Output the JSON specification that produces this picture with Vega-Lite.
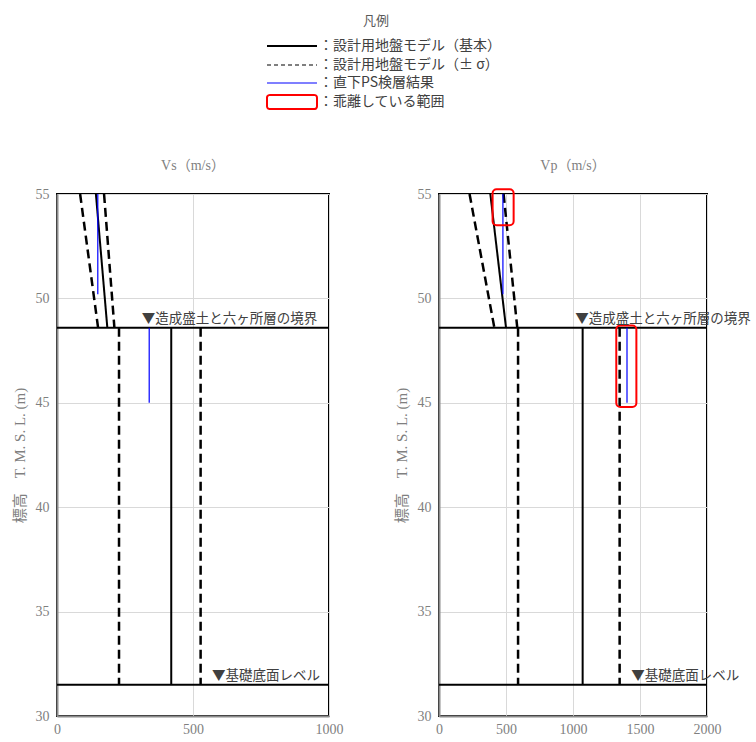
{
  "$schema": "https://vega.github.io/schema/vega-lite/v6.json",
  "background": "white",
  "padding": {"left": 11, "top": 15, "right": 5, "bottom": 5},
  "datasets": {
    "lines": [
      {"panel": "Vs", "series": "：設計用地盤モデル（基本）", "seg": "b1", "x": 143, "y": 55},
      {"panel": "Vs", "series": "：設計用地盤モデル（基本）", "seg": "b1", "x": 185, "y": 48.6},
      {"panel": "Vs", "series": "：設計用地盤モデル（基本）", "seg": "b2", "x": 420, "y": 48.6},
      {"panel": "Vs", "series": "：設計用地盤モデル（基本）", "seg": "b2", "x": 420, "y": 31.5},
      {"panel": "Vs", "series": "：設計用地盤モデル（± σ）", "seg": "m1", "x": 85, "y": 55},
      {"panel": "Vs", "series": "：設計用地盤モデル（± σ）", "seg": "m1", "x": 151, "y": 48.6},
      {"panel": "Vs", "series": "：設計用地盤モデル（± σ）", "seg": "m2", "x": 228, "y": 48.6},
      {"panel": "Vs", "series": "：設計用地盤モデル（± σ）", "seg": "m2", "x": 228, "y": 31.5},
      {"panel": "Vs", "series": "：設計用地盤モデル（± σ）", "seg": "p1", "x": 173, "y": 55},
      {"panel": "Vs", "series": "：設計用地盤モデル（± σ）", "seg": "p1", "x": 211, "y": 48.6},
      {"panel": "Vs", "series": "：設計用地盤モデル（± σ）", "seg": "p2", "x": 528, "y": 48.6},
      {"panel": "Vs", "series": "：設計用地盤モデル（± σ）", "seg": "p2", "x": 528, "y": 31.5},
      {"panel": "Vs", "series": "：直下PS検層結果", "seg": "s1", "x": 150, "y": 55},
      {"panel": "Vs", "series": "：直下PS検層結果", "seg": "s1", "x": 150, "y": 50.2},
      {"panel": "Vs", "series": "：直下PS検層結果", "seg": "s2", "x": 339, "y": 48.6},
      {"panel": "Vs", "series": "：直下PS検層結果", "seg": "s2", "x": 339, "y": 45.0},
      {"panel": "Vp", "series": "：設計用地盤モデル（基本）", "seg": "b1", "x": 383, "y": 55},
      {"panel": "Vp", "series": "：設計用地盤モデル（基本）", "seg": "b1", "x": 500, "y": 48.6},
      {"panel": "Vp", "series": "：設計用地盤モデル（基本）", "seg": "b2", "x": 1072, "y": 48.6},
      {"panel": "Vp", "series": "：設計用地盤モデル（基本）", "seg": "b2", "x": 1072, "y": 31.5},
      {"panel": "Vp", "series": "：設計用地盤モデル（± σ）", "seg": "m1", "x": 228, "y": 55},
      {"panel": "Vp", "series": "：設計用地盤モデル（± σ）", "seg": "m1", "x": 413, "y": 48.6},
      {"panel": "Vp", "series": "：設計用地盤モデル（± σ）", "seg": "m2", "x": 590, "y": 48.6},
      {"panel": "Vp", "series": "：設計用地盤モデル（± σ）", "seg": "m2", "x": 590, "y": 31.5},
      {"panel": "Vp", "series": "：設計用地盤モデル（± σ）", "seg": "p1", "x": 482, "y": 55},
      {"panel": "Vp", "series": "：設計用地盤モデル（± σ）", "seg": "p1", "x": 584, "y": 48.6},
      {"panel": "Vp", "series": "：設計用地盤モデル（± σ）", "seg": "p2", "x": 1348, "y": 48.6},
      {"panel": "Vp", "series": "：設計用地盤モデル（± σ）", "seg": "p2", "x": 1348, "y": 31.5},
      {"panel": "Vp", "series": "：直下PS検層結果", "seg": "s1", "x": 477, "y": 55},
      {"panel": "Vp", "series": "：直下PS検層結果", "seg": "s1", "x": 477, "y": 50.2},
      {"panel": "Vp", "series": "：直下PS検層結果", "seg": "s2", "x": 1403, "y": 48.6},
      {"panel": "Vp", "series": "：直下PS検層結果", "seg": "s2", "x": 1403, "y": 45.0}
    ],
    "rects": [
      {"panel": "Vp", "series": "：乖離している範囲", "x": 400, "x2": 557, "y": 53.5, "y2": 55.23},
      {"panel": "Vp", "series": "：乖離している範囲", "x": 1323, "x2": 1473, "y": 44.8, "y2": 48.7}
    ],
    "levels": [
      {"level": "境界", "y": 48.6},
      {"level": "基礎底面", "y": 31.5}
    ],
    "notes": [
      {"panel": "Vs", "label": "▼造成盛土と六ヶ所層の境界", "x": 312, "y": 48.6},
      {"panel": "Vs", "label": "▼基礎底面レベル", "x": 570, "y": 31.5},
      {"panel": "Vp", "label": "▼造成盛土と六ヶ所層の境界", "x": 1017, "y": 48.6},
      {"panel": "Vp", "label": "▼基礎底面レベル", "x": 1435, "y": 31.5}
    ]
  },
  "config": {
    "view": {"stroke": "black", "strokeWidth": 2},
    "axis": {
      "labelFont": "Liberation Serif",
      "labelFontSize": 14,
      "labelColor": "#7f7f7f",
      "labelFlush": false,
      "titleFont": "Liberation Serif, Noto Sans CJK JP",
      "titleFontSize": 15,
      "titleFontWeight": "normal",
      "titleColor": "#7f7f7f",
      "gridColor": "#d9d9d9",
      "gridWidth": 1,
      "domainColor": "#8c8c8c",
      "domainWidth": 2,
      "ticks": false
    },
    "title": {
      "font": "Liberation Serif, Noto Sans CJK JP",
      "fontSize": 14,
      "fontWeight": "normal",
      "color": "#7f7f7f",
      "offset": 14
    }
  },
  "hconcat": [
    {
      "width": 272,
      "height": 522,
      "title": "Vs（m/s）",
      "layer": [
        {
          "data": {"name": "lines"},
          "transform": [{"filter": "datum.panel === 'Vs' && datum.series === '：設計用地盤モデル（基本）'"}],
          "mark": {"type": "line", "strokeWidth": 2},
          "encoding": {
            "x": {"field": "x", "type": "quantitative", "scale": {"domain": [0, 1000], "nice": false}, "axis": {"title": null, "values": [0, 500, 1000], "format": "d", "labelPadding": 6}},
            "y": {"field": "y", "type": "quantitative", "scale": {"domain": [30, 55], "nice": false}, "axis": {"title": "標高　T. M. S. L. (m)", "values": [30, 35, 40, 45, 50, 55], "labelPadding": 8, "titlePadding": 8}},
            "detail": {"field": "seg"},
            "color": {
              "field": "series", "type": "nominal",
              "scale": {
                "domain": ["：設計用地盤モデル（基本）", "：設計用地盤モデル（± σ）", "：直下PS検層結果", "：乖離している範囲"],
                "range": ["black", "black", "blue", "#ff0000"]
              },
              "legend": {
                "title": "凡例",
                "orient": "none",
                "legendX": 228,
                "legendY": -179,
                "titleFont": "Noto Sans CJK JP",
                "titleFontSize": 13,
                "titleFontWeight": "normal",
                "titleColor": "#595959",
                "titleAnchor": "middle",
                "titlePadding": 11,
                "labelFont": "Noto Sans CJK JP",
                "labelFontSize": 14,
                "labelColor": "#404040",
                "labelOffset": 20,
                "labelLimit": 0,
                "symbolSize": 196,
                "rowPadding": -2,
                "padding": 0,
                "encode": {
                  "title": {"update": {"dx": {"value": -17}}},
                  "symbols": {
                    "update": {
                      "shape": {"signal": "datum.value === '：乖離している範囲' ? 'M-3.14,-1L3.14,-1Q3.57,-1 3.57,-0.57L3.57,0.57Q3.57,1 3.14,1L-3.14,1Q-3.57,1 -3.57,0.57L-3.57,-0.57Q-3.57,-1 -3.14,-1Z' : 'M-3.57,-1M-3.57,1M-3.57,0L3.57,0'"},
                      "strokeDash": {"signal": "datum.value === '：設計用地盤モデル（± σ）' ? [4, 3] : [1, 0]"},
                      "strokeWidth": {"signal": "datum.value === '：直下PS検層結果' ? 1.2 : datum.value === '：設計用地盤モデル（± σ）' ? 1.2 : 2"},
                      "stroke": {"signal": "datum.value === '：設計用地盤モデル（基本）' ? '#555555' : scale('color', datum.value)"},
                      "fill": {"value": "transparent"},
                      "opacity": {"value": 1}
                    }
                  }
                }
              }
            }
          }
        },
        {
          "data": {"name": "levels"},
          "mark": {"type": "rule", "color": "black", "strokeWidth": 2},
          "encoding": {"y": {"field": "y", "type": "quantitative"}}
        },
        {
          "data": {"name": "lines"},
          "transform": [{"filter": "datum.panel === 'Vs' && datum.series === '：設計用地盤モデル（± σ）'"}],
          "mark": {"type": "line", "strokeWidth": 2.5, "strokeDash": [9, 5]},
          "encoding": {
            "x": {"field": "x", "type": "quantitative"},
            "y": {"field": "y", "type": "quantitative"},
            "detail": {"field": "seg"},
            "color": {"field": "series", "type": "nominal"}
          }
        },
        {
          "data": {"name": "lines"},
          "transform": [{"filter": "datum.panel === 'Vs' && datum.series === '：直下PS検層結果'"}],
          "mark": {"type": "line", "strokeWidth": 1.2},
          "encoding": {
            "x": {"field": "x", "type": "quantitative"},
            "y": {"field": "y", "type": "quantitative"},
            "detail": {"field": "seg"},
            "color": {"field": "series", "type": "nominal"}
          }
        },
        {
          "data": {"name": "notes"},
          "transform": [{"filter": "datum.panel === 'Vs'"}],
          "mark": {"type": "text", "align": "left", "baseline": "bottom", "dy": -2, "font": "Noto Sans CJK JP", "fontSize": 13.5, "color": "#404040"},
          "encoding": {
            "x": {"field": "x", "type": "quantitative"},
            "y": {"field": "y", "type": "quantitative"},
            "text": {"field": "label"}
          }
        }
      ]
    },
    {
      "width": 268,
      "height": 522,
      "title": "Vp（m/s）",
      "layer": [
        {
          "data": {"name": "lines"},
          "transform": [{"filter": "datum.panel === 'Vp' && datum.series === '：設計用地盤モデル（基本）'"}],
          "mark": {"type": "line", "strokeWidth": 2},
          "encoding": {
            "x": {"field": "x", "type": "quantitative", "scale": {"domain": [0, 2000], "nice": false}, "axis": {"title": null, "values": [0, 500, 1000, 1500, 2000], "format": "d", "labelPadding": 6}},
            "y": {"field": "y", "type": "quantitative", "scale": {"domain": [30, 55], "nice": false}, "axis": {"title": "標高　T. M. S. L. (m)", "values": [30, 35, 40, 45, 50, 55], "labelPadding": 8, "titlePadding": 8}},
            "detail": {"field": "seg"},
            "color": {"field": "series", "type": "nominal"}
          }
        },
        {
          "data": {"name": "levels"},
          "mark": {"type": "rule", "color": "black", "strokeWidth": 2},
          "encoding": {"y": {"field": "y", "type": "quantitative"}}
        },
        {
          "data": {"name": "lines"},
          "transform": [{"filter": "datum.panel === 'Vp' && datum.series === '：設計用地盤モデル（± σ）'"}],
          "mark": {"type": "line", "strokeWidth": 2.5, "strokeDash": [9, 5]},
          "encoding": {
            "x": {"field": "x", "type": "quantitative"},
            "y": {"field": "y", "type": "quantitative"},
            "detail": {"field": "seg"},
            "color": {"field": "series", "type": "nominal"}
          }
        },
        {
          "data": {"name": "lines"},
          "transform": [{"filter": "datum.panel === 'Vp' && datum.series === '：直下PS検層結果'"}],
          "mark": {"type": "line", "strokeWidth": 1.2},
          "encoding": {
            "x": {"field": "x", "type": "quantitative"},
            "y": {"field": "y", "type": "quantitative"},
            "detail": {"field": "seg"},
            "color": {"field": "series", "type": "nominal"}
          }
        },
        {
          "data": {"name": "rects"},
          "mark": {"type": "rect", "fill": null, "fillOpacity": 0, "strokeWidth": 2, "cornerRadius": 4},
          "encoding": {
            "x": {"field": "x", "type": "quantitative"},
            "x2": {"field": "x2"},
            "y": {"field": "y", "type": "quantitative"},
            "y2": {"field": "y2"},
            "stroke": {"field": "series", "type": "nominal", "scale": {"domain": ["：設計用地盤モデル（基本）", "：設計用地盤モデル（± σ）", "：直下PS検層結果", "：乖離している範囲"], "range": ["black", "black", "blue", "#ff0000"]}, "legend": null}
          }
        },
        {
          "data": {"name": "notes"},
          "transform": [{"filter": "datum.panel === 'Vp'"}],
          "mark": {"type": "text", "align": "left", "baseline": "bottom", "dy": -2, "font": "Noto Sans CJK JP", "fontSize": 13.5, "color": "#404040"},
          "encoding": {
            "x": {"field": "x", "type": "quantitative"},
            "y": {"field": "y", "type": "quantitative"},
            "text": {"field": "label"}
          }
        }
      ]
    }
  ],
  "resolve": {"scale": {"x": "independent", "y": "independent"}},
  "spacing": 49
}
